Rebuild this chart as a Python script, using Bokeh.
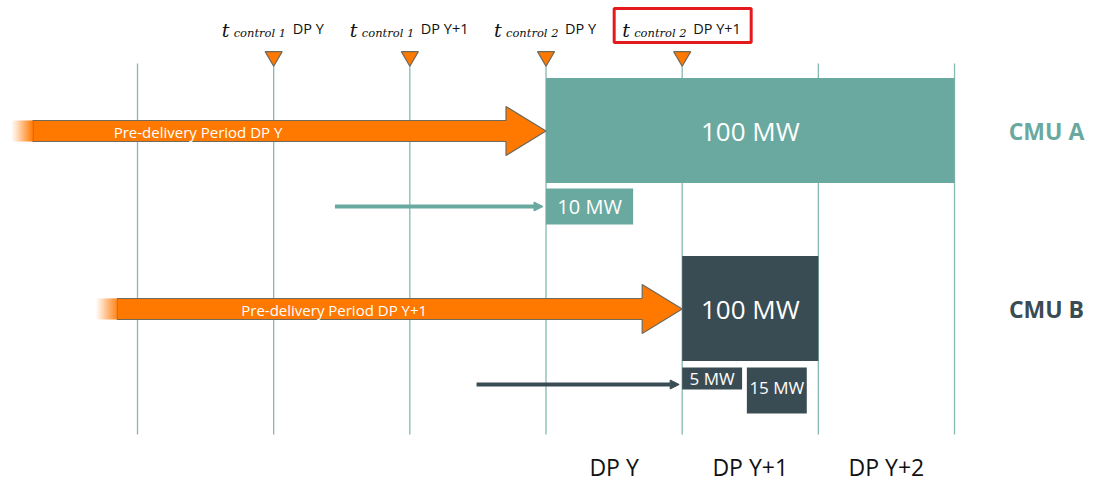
from bokeh.plotting import figure
from bokeh.models import Range1d, Arrow, NormalHead
from bokeh.core.properties import value
from bokeh.embed import file_html
from bokeh.resources import INLINE

# ---------------- data ----------------
grid_t = [0, 1, 2, 3, 4, 5, 6]                      # time grid (quarters)
periods = ["DP Y", "DP Y+1", "DP Y+2"]
period_start = [3, 4, 5]
period_end = [4, 5, 6]

control_t = [1, 2, 3, 4]
control_sub = ["control 1", "control 1", "control 2", "control 2"]
control_dp = ["DP Y", "DP Y+1", "DP Y", "DP Y+1"]
highlight_idx = 3

cmus = ["CMU A", "CMU B"]
cmu_start = [3, 4]
cmu_end = [6, 5]
cmu_capacity = [100, 100]
predelivery_labels = ["Pre-delivery Period DP Y", "Pre-delivery Period DP Y+1"]
predelivery_start = [-0.93, -0.31]

extra_cmu = [0, 1, 1]
extra_mw = [10, 5, 15]
extra_start = [3.0, 4.0, 4.475]
extra_end = [3.64, 4.44, 4.915]
extra_arrow_start = [1.45, 2.49]

# ---------------- layout / styles ----------------
W, H = 1093, 484
PX = 136.17                  # pixels per time unit
X0 = 137.0                   # screen x of t=0
def tx(px):                  # screen-px offset -> time units
    return px / PX

TEAL = "#6aa9a0"
DARK = "#3a4c53"
ORANGE = "#ff7800"
OUTLINE = "#6d6a5e"
GRID = "#86b9b0"
FONT = "Open Sans"

row_y = [130, 308]
box_half = 52.5
extra_top = [58, 59, 59]
extra_h = [36, 22, 46]
extra_font = ["20px", "17px", "17px"]
extra_text_y = [18, 11, 20]

p = figure(width=W, height=H, output_backend="svg", toolbar_location=None,
           x_range=Range1d((0 - X0) / PX, (W - X0) / PX),
           y_range=Range1d(H, 0), min_border=0,
           x_axis_location=None, y_axis_location=None)
p.grid.visible = False
p.outline_line_color = None
p.background_fill_color = "white"

# vertical grid lines
p.segment(x0=grid_t, y0=[63] * len(grid_t), x1=grid_t, y1=[434] * len(grid_t),
          line_color=GRID, line_width=1.3)

# CMU main boxes
colors = [TEAL, DARK]
for i in range(2):
    p.quad(left=cmu_start[i], right=cmu_end[i], top=row_y[i] - box_half,
           bottom=row_y[i] + box_half, fill_color=colors[i], line_color=None)
    p.text(x=[(cmu_start[i] + cmu_end[i]) / 2], y=[row_y[i]],
           text=[f"{cmu_capacity[i]} MW"], text_align="center", text_baseline="middle",
           text_color="white", text_font=value(FONT), text_font_size="26px")
    p.text(x=[tx(1046 - X0)], y=[row_y[i]], text=[cmus[i]], text_align="center",
           text_baseline="middle", text_color=colors[i], text_font=value(FONT),
           text_font_size="23px", text_font_style="bold")

# pre-delivery orange arrows
for i in range(2):
    y = row_y[i] + 0.5
    s = predelivery_start[i]
    e = cmu_start[i]
    fade = tx(22)
    hs = e - tx(40)
    xs = [s + fade, hs, hs, e, hs, hs, s + fade]
    ys = [y - 10.5, y - 10.5, y - 24.5, y, y + 24.5, y + 10.5, y + 10.5]
    p.patch(xs, ys, fill_color=ORANGE, line_color=OUTLINE, line_width=1.2)
    n = 22
    for k in range(n):
        a0 = s + fade * k / n
        a1 = s + fade * (k + 1) / n
        p.quad(left=a0, right=a1 + tx(0.3), top=y - 10.5, bottom=y + 10.5,
               fill_color=ORANGE, fill_alpha=((k + 1) / (n + 1)) ** 1.3, line_color=None)
    p.text(x=[e - tx(348)], y=[y + 1], text=[predelivery_labels[i]], text_align="center",
           text_baseline="middle", text_color="white", text_font=value(FONT),
           text_font_size="15px")

# extra capacity boxes
for j in range(3):
    c = extra_cmu[j]
    top = row_y[c] + extra_top[j]
    p.quad(left=extra_start[j], right=extra_end[j], top=top, bottom=top + extra_h[j],
           fill_color=colors[c], line_color=None)
    p.text(x=[(extra_start[j] + extra_end[j]) / 2], y=[top + extra_text_y[j]],
           text=[f"{extra_mw[j]} MW"], text_align="center", text_baseline="middle",
           text_color="white", text_font=value(FONT), text_font_size=extra_font[j])

# thin arrows to extra boxes
for i in range(2):
    y = row_y[i] + 76
    p.add_layout(Arrow(x_start=extra_arrow_start[i], y_start=y,
                       x_end=cmu_start[i] - tx(3), y_end=y,
                       line_color=colors[i], line_width=4,
                       end=NormalHead(size=9, fill_color=colors[i], line_color=colors[i],
                                      line_width=1)))

# control markers
p.scatter(x=control_t, y=[56] * 4, marker="inverted_triangle", size=17,
          fill_color=ORANGE, line_color=OUTLINE, line_width=1.2)

# control labels
dp_w = {"DP Y": 33, "DP Y+1": 49}
for i, t in enumerate(control_t):
    total = 71 + dp_w[control_dp[i]]
    left = t - tx(total / 2)
    p.text(x=[left], y=[29], text=["t"], text_align="left", text_baseline="alphabetic",
           text_font=value("DejaVu Serif"), text_font_style="italic",
           text_font_size="19px", text_color="#111")
    p.text(x=[left + tx(12)], y=[32], text=[control_sub[i]], text_align="left",
           text_baseline="alphabetic", text_font=value("DejaVu Serif"),
           text_font_style="italic", text_font_size="11.5px", text_color="#111")
    p.text(x=[left + tx(71)], y=[28], text=[control_dp[i]], text_align="left",
           text_baseline="alphabetic", text_font=value(FONT), text_font_size="14.5px",
           text_color="#111")

# highlight box
ht = control_t[highlight_idx]
p.quad(left=ht - tx(68), right=ht + tx(69), top=8, bottom=42, fill_color=None,
       line_color="#e41a1c", line_width=3)

# delivery period labels
p.text(x=[(a + b) / 2 for a, b in zip(period_start, period_end)], y=[466] * 3,
       text=periods, text_align="center", text_baseline="middle",
       text_font=value(FONT), text_font_size="23px", text_color="#111")

open("out.html", "w").write(file_html(p, INLINE))
